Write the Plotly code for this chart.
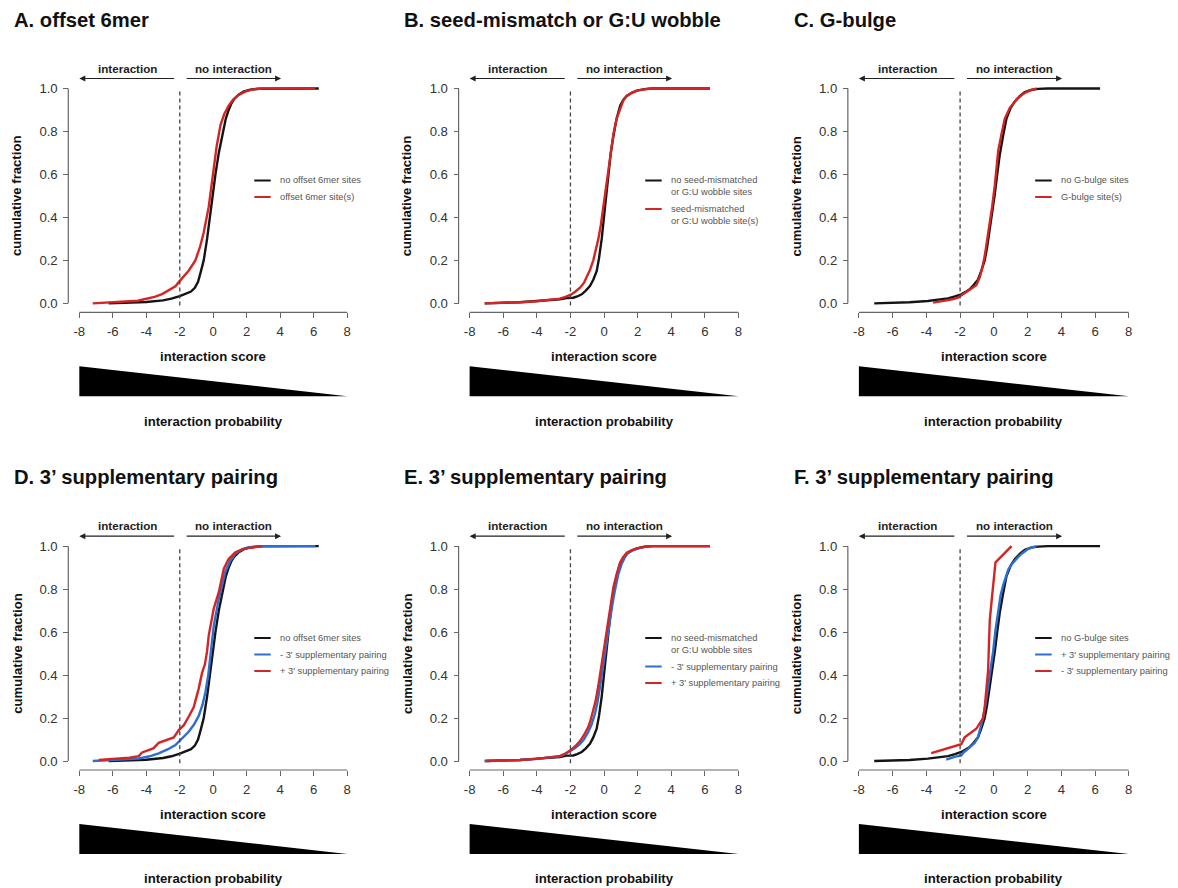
import plotly.graph_objects as go

# ---------------- data ----------------
x_ticks = [-8, -6, -4, -2, 0, 2, 4, 6, 8]
x_tick_text = ["-8", "-6", "-4", "-2", "0", "2", "4", "6", "8"]
y_ticks = [0.0, 0.2, 0.4, 0.6, 0.8, 1.0]

# Panel A / D reference: no offset 6mer sites
black_A_x = [-6.25, -5.0, -4.0, -3.0, -2.5, -2.0, -1.6, -1.33, -1.1, -0.91, -0.75, -0.57, -0.37, -0.21, -0.05,
             0.13, 0.33, 0.57, 0.75, 0.92, 1.08, 1.24, 1.5, 1.8, 2.2, 2.7, 3.5, 6.3]
black_A_y = [0.0, 0.002, 0.006, 0.014, 0.022, 0.034, 0.045, 0.055, 0.072, 0.1, 0.145, 0.2, 0.3, 0.4, 0.5,
             0.6, 0.7, 0.8, 0.86, 0.9, 0.93, 0.95, 0.97, 0.985, 0.994, 0.999, 1.0, 1.0]
red_A_x = [-7.2, -6.5, -5.5, -4.5, -4.06, -3.5, -3.06, -2.6, -2.26, -1.96, -1.47, -1.07, -0.8, -0.57, -0.4,
           -0.27, -0.12, 0.03, 0.2, 0.43, 0.65, 0.92, 1.2, 1.52, 1.9, 2.3, 2.9, 6.1]
red_A_y = [0.0, 0.003, 0.006, 0.012, 0.02, 0.03, 0.043, 0.062, 0.079, 0.108, 0.152, 0.2, 0.26, 0.33, 0.39,
           0.45, 0.54, 0.64, 0.73, 0.83, 0.88, 0.92, 0.95, 0.97, 0.985, 0.995, 1.0, 1.0]

# Panel B / E reference: no seed-mismatched or G:U wobble sites
black_B_x = [-7.1, -6.0, -5.0, -4.0, -3.3, -2.63, -2.23, -1.83, -1.6, -1.33, -1.1, -0.84, -0.64, -0.44, -0.3,
             -0.14, 0.06, 0.26, 0.4, 0.56, 0.75, 0.96, 1.15, 1.35, 1.65, 1.95, 2.4, 2.9, 6.3]
black_B_y = [0.0, 0.002, 0.005, 0.011, 0.015, 0.019, 0.025, 0.026, 0.032, 0.042, 0.058, 0.08, 0.11, 0.15, 0.21,
             0.3, 0.45, 0.61, 0.7, 0.78, 0.86, 0.92, 0.948, 0.965, 0.98, 0.99, 0.997, 1.0, 1.0]
red_B_x = [-7.1, -6.0, -5.0, -4.0, -3.3, -2.63, -2.3, -1.93, -1.7, -1.43, -1.2, -1.04, -0.84, -0.64, -0.5,
           -0.34, -0.2, -0.04, 0.1, 0.26, 0.4, 0.56, 0.75, 0.96, 1.15, 1.35, 1.65, 1.95, 2.4, 2.75, 6.3]
red_B_y = [0.0, 0.002, 0.005, 0.01, 0.015, 0.022, 0.03, 0.042, 0.055, 0.073, 0.095, 0.12, 0.155, 0.2, 0.245,
           0.3, 0.36, 0.44, 0.53, 0.62, 0.7, 0.79, 0.86, 0.91, 0.945, 0.965, 0.98, 0.99, 0.997, 1.0, 1.0]

# Panel C / F reference: no G-bulge sites
black_C_x = [-7.09, -6.0, -5.0, -3.91, -3.3, -2.72, -2.3, -1.93, -1.7, -1.43, -1.2, -0.94, -0.75, -0.54, -0.4,
             -0.24, -0.1, 0.06, 0.2, 0.35, 0.55, 0.75, 1.0, 1.25, 1.55, 1.84, 2.2, 2.63, 3.2, 6.3]
black_C_y = [0.0, 0.002, 0.005, 0.011, 0.016, 0.023, 0.032, 0.042, 0.052, 0.065, 0.085, 0.11, 0.15, 0.2, 0.26,
             0.34, 0.42, 0.51, 0.6, 0.69, 0.78, 0.86, 0.91, 0.94, 0.965, 0.983, 0.993, 0.998, 1.0, 1.0]
red_C_x = [-3.6, -3.1, -2.72, -2.4, -2.13, -1.83, -1.53, -1.25, -1.04, -0.84, -0.7, -0.54, -0.4, -0.24, -0.1,
           0.06, 0.16, 0.26, 0.46, 0.65, 0.95, 1.15, 1.35, 1.6, 1.84, 2.2, 2.54]
red_C_y = [0.003, 0.008, 0.015, 0.02, 0.026, 0.042, 0.057, 0.07, 0.084, 0.12, 0.16, 0.22, 0.29, 0.36, 0.45,
           0.55, 0.64, 0.71, 0.79, 0.86, 0.91, 0.93, 0.95, 0.966, 0.98, 0.992, 1.0]

# Panel D: - / + 3' supplementary pairing (offset 6mer)
blue_D_x = [-7.2, -6.25, -5.2, -4.45, -3.8, -3.26, -2.7, -2.26, -1.96, -1.47, -1.15, -0.87, -0.65, -0.47, -0.3,
            -0.17, 0.03, 0.33, 0.72, 1.0, 1.32, 1.7, 2.12, 3.0, 6.1]
blue_D_y = [0.0, 0.005, 0.008, 0.012, 0.022, 0.036, 0.055, 0.074, 0.098, 0.136, 0.17, 0.21, 0.26, 0.32, 0.4,
            0.48, 0.63, 0.755, 0.88, 0.93, 0.965, 0.985, 0.995, 1.0, 1.0]
red_D_x = [-6.84, -6.0, -5.0, -4.45, -4.25, -3.9, -3.56, -3.26, -2.86, -2.36, -2.06, -1.76, -1.47, -1.17, -0.87,
           -0.67, -0.5, -0.37, -0.27, -0.1, 0.03, 0.33, 0.63, 0.92, 1.32, 1.92, 2.92]
red_D_y = [0.005, 0.01, 0.016, 0.023, 0.04, 0.05, 0.06, 0.085, 0.097, 0.11, 0.144, 0.167, 0.206, 0.25, 0.337,
           0.41, 0.45, 0.51, 0.585, 0.65, 0.71, 0.786, 0.895, 0.94, 0.972, 0.99, 1.0]

# Panel E: - / + 3' supplementary pairing (seed-mismatch)
blue_E_x = [-7.1, -6.0, -5.0, -4.0, -3.3, -2.63, -2.3, -1.93, -1.7, -1.43, -1.2, -0.94, -0.74, -0.54, -0.4,
            -0.24, -0.1, 0.06, 0.2, 0.36, 0.5, 0.66, 0.85, 1.06, 1.25, 1.45, 1.75, 2.05, 2.4, 2.75, 6.3]
blue_E_y = [0.0, 0.002, 0.005, 0.01, 0.015, 0.022, 0.033, 0.05, 0.062, 0.08, 0.1, 0.135, 0.17, 0.22, 0.27,
            0.345, 0.42, 0.5, 0.58, 0.655, 0.73, 0.8, 0.87, 0.92, 0.95, 0.97, 0.982, 0.99, 0.997, 1.0, 1.0]
red_E_x = [-7.0, -6.0, -5.0, -4.0, -3.3, -2.63, -2.3, -1.93, -1.7, -1.43, -1.2, -0.94, -0.8, -0.64, -0.5,
           -0.34, -0.2, -0.04, 0.1, 0.26, 0.4, 0.56, 0.75, 0.96, 1.15, 1.35, 1.65, 1.95, 2.4, 2.75, 6.3]
red_E_y = [0.0, 0.002, 0.005, 0.01, 0.015, 0.023, 0.035, 0.054, 0.07, 0.093, 0.12, 0.158, 0.19, 0.236, 0.28,
           0.35, 0.42, 0.51, 0.59, 0.67, 0.74, 0.81, 0.87, 0.925, 0.95, 0.97, 0.982, 0.99, 0.997, 1.0, 1.0]

# Panel F: + / - 3' supplementary pairing (G-bulge)
blue_F_x = [-2.82, -2.5, -2.33, -1.93, -1.8, -1.63, -1.4, -1.14, -0.94, -0.8, -0.64, -0.5, -0.34, -0.2, -0.04,
            0.1, 0.26, 0.4, 0.56, 0.7, 0.85, 1.05, 1.25, 1.45, 1.65, 1.85, 2.04, 2.3, 2.54]
blue_F_y = [0.006, 0.015, 0.019, 0.026, 0.04, 0.05, 0.065, 0.084, 0.11, 0.15, 0.2, 0.26, 0.34, 0.42, 0.51,
            0.61, 0.7, 0.77, 0.82, 0.86, 0.89, 0.915, 0.935, 0.95, 0.965, 0.975, 0.988, 0.995, 1.0]
red_F_x = [-3.71, -1.93, -1.73, -1.04, -0.64, -0.54, -0.34, -0.24, -0.1, 0.1, 1.05]
red_F_y = [0.037, 0.078, 0.11, 0.15, 0.2, 0.25, 0.42, 0.655, 0.77, 0.925, 1.0]

titles = ["A. offset 6mer", "B. seed-mismatch or G:U wobble", "C. G-bulge",
          "D. 3\u2019 supplementary pairing", "E. 3\u2019 supplementary pairing", "F. 3\u2019 supplementary pairing"]

BLACK, RED, BLUE = "#141414", "#d42424", "#2c6fd0"

series = [
    [(black_A_x, black_A_y, BLACK), (red_A_x, red_A_y, RED)],
    [(black_B_x, black_B_y, BLACK), (red_B_x, red_B_y, RED)],
    [(black_C_x, black_C_y, BLACK), (red_C_x, red_C_y, RED)],
    [(black_A_x, black_A_y, BLACK), (blue_D_x, blue_D_y, BLUE), (red_D_x, red_D_y, RED)],
    [(black_B_x, black_B_y, BLACK), (blue_E_x, blue_E_y, BLUE), (red_E_x, red_E_y, RED)],
    [(black_C_x, black_C_y, BLACK), (blue_F_x, blue_F_y, BLUE), (red_F_x, red_F_y, RED)],
]

legends = [
    [(BLACK, ["no offset 6mer sites"]), (RED, ["offset 6mer site(s)"])],
    [(BLACK, ["no seed-mismatched", "or G:U wobble sites"]), (RED, ["seed-mismatched", "or G:U wobble site(s)"])],
    [(BLACK, ["no G-bulge sites"]), (RED, ["G-bulge site(s)"])],
    [(BLACK, ["no offset 6mer sites"]), (BLUE, ["- 3' supplementary pairing"]), (RED, ["+ 3' supplementary pairing"])],
    [(BLACK, ["no seed-mismatched", "or G:U wobble sites"]), (BLUE, ["- 3' supplementary pairing"]),
     (RED, ["+ 3' supplementary pairing"])],
    [(BLACK, ["no G-bulge sites"]), (BLUE, ["+ 3' supplementary pairing"]), (RED, ["- 3' supplementary pairing"])],
]

# ---------------- layout geometry ----------------
# Target pixel positions (in the 1178x888 picture), converted to plot-div pixels
# (the page adds an 8px body margin and the picture comes out slightly scaled).
S = 1178 / 1192.0
BODY = 8
W, H = 1176, 895
col_x0 = [81, 470, 858]      # pixel of x = -8
col_x1 = [348, 738, 1127]    # pixel of x = 8
yaxis_px = [70, 459, 847]
row_y1 = [89, 547]           # pixel of y = 1
row_y0 = [304, 762]          # pixel of y = 0
xaxis_px = [313, 771]
YPAD = 0.02
FONT = "Liberation Sans, Arial, Helvetica, sans-serif"
Y_OFF, Y_SCL = 4.5, 1.0058   # small vertical correction seen in earlier renders

def px(xp):
    return (xp / S - BODY) / W

def py(yp):
    yc = (yp + Y_OFF) / Y_SCL
    return 1 - (yc / S - BODY) / H

def fs(v):
    return v / S

fig = go.Figure()
shapes, annotations = [], []
layout = dict(width=W, height=H, margin=dict(l=0, r=0, t=0, b=0),
              paper_bgcolor="white", plot_bgcolor="white", showlegend=False,
              font=dict(family=FONT))

for i in range(6):
    r, c = divmod(i, 3)
    sfx = "" if i == 0 else str(i + 1)
    xr, yr = "x" + sfx, "y" + sfx
    x0p, x1p = col_x0[c], col_x1[c]
    y1p, y0p = row_y1[r], row_y0[r]
    span = y0p - y1p
    dom_top = y1p - YPAD * span
    dom_bot = y0p + YPAD * span

    layout["xaxis" + sfx] = dict(
        domain=[px(x0p), px(x1p)], range=[-8, 8], anchor="free", position=py(xaxis_px[r]),
        tickvals=x_ticks, ticktext=x_tick_text, ticks="outside", ticklen=5, tickwidth=1, tickcolor="#666",
        showline=False, showgrid=False, zeroline=False, ticklabelstandoff=2,
        tickfont=dict(size=fs(13), color="#333", family=FONT), fixedrange=True)
    layout["yaxis" + sfx] = dict(
        domain=[py(dom_bot), py(dom_top)], range=[-YPAD, 1 + YPAD], anchor="free", position=px(yaxis_px[c]),
        tickvals=y_ticks, tickformat=".1f", ticks="outside", ticklen=5, tickwidth=1, tickcolor="#666",
        showline=False, showgrid=False, zeroline=False, ticklabelstandoff=3,
        tickfont=dict(size=fs(13), color="#333", family=FONT), fixedrange=True)

    for (sx, sy, col) in series[i]:
        fig.add_trace(go.Scatter(x=sx, y=sy, mode="lines", line=dict(color=col, width=2.4),
                                 xaxis=xr, yaxis=yr, hoverinfo="skip", showlegend=False))

    # axis lines (R-style offset axes)
    shapes.append(dict(type="line", xref="paper", yref="paper",
                       x0=px(yaxis_px[c]), x1=px(yaxis_px[c]), y0=py(y0p), y1=py(y1p),
                       line=dict(color="#666", width=1.2)))
    shapes.append(dict(type="line", xref="paper", yref="paper",
                       x0=px(x0p), x1=px(x1p), y0=py(xaxis_px[r]), y1=py(xaxis_px[r]),
                       line=dict(color="#666", width=1.2)))
    # dashed threshold line at -2
    shapes.append(dict(type="line", xref=xr, yref=yr, x0=-2, x1=-2, y0=-0.01, y1=0.99,
                       line=dict(color="#444", width=1.3, dash="4px,3px")))
    # probability triangle
    shapes.append(dict(type="path", xref="paper", yref="paper",
                       path=f"M {px(x0p)},{py(y0p + 63)} L {px(x0p)},{py(y0p + 93)} L {px(x1p)},{py(y0p + 93)} Z",
                       fillcolor="black", line=dict(width=0)))

    # title
    annotations.append(dict(text="<b>" + titles[i] + "</b>", xref="paper", yref="paper",
                            x=px(x0p - 67), y=py(y1p - 69), xanchor="left", yanchor="middle",
                            showarrow=False, font=dict(size=fs(20), color="#111", family=FONT)))
    # axis titles
    annotations.append(dict(text="<b>interaction score</b>", xref=xr, yref="paper", x=0, y=py(y0p + 53.5),
                            xanchor="center", yanchor="middle", showarrow=False,
                            font=dict(size=fs(13), color="#111", family=FONT)))
    annotations.append(dict(text="<b>interaction probability</b>", xref=xr, yref="paper", x=0, y=py(y0p + 118),
                            xanchor="center", yanchor="middle", showarrow=False,
                            font=dict(size=fs(13), color="#111", family=FONT)))
    annotations.append(dict(text="<b>cumulative fraction</b>", xref="paper", yref=yr,
                            x=px(yaxis_px[c] - 51), y=0.5, textangle=-90,
                            xanchor="center", yanchor="middle", showarrow=False,
                            font=dict(size=fs(13), color="#111", family=FONT)))
    # interaction arrows (above the plot area)
    for (tip, tail) in [(-8, -2.25), (4.05, -1.68)]:
        annotations.append(dict(text="", xref=xr, yref="paper", x=tip, y=py(y1p - 10),
                                axref=xr, ax=tail, ayref="pixel", ay=0,
                                showarrow=True, arrowhead=2, arrowsize=1, arrowwidth=1.2, arrowcolor="#222",
                                standoff=0, startstandoff=0))
    annotations.append(dict(text="<b>interaction</b>", xref=xr, yref="paper", x=-5.13, y=py(y1p - 20.5),
                            xanchor="center", yanchor="middle", showarrow=False,
                            font=dict(size=fs(11.5), color="#222", family=FONT)))
    annotations.append(dict(text="<b>no interaction</b>", xref=xr, yref="paper", x=1.21, y=py(y1p - 20.5),
                            xanchor="center", yanchor="middle", showarrow=False,
                            font=dict(size=fs(11.5), color="#222", family=FONT)))

    # legend (custom, inside plot)
    ypos_px = 181.0
    for (col, lines) in legends[i]:
        yv = (y0p - (y1p + (ypos_px - 89))) / span
        shapes.append(dict(type="line", xref=xr, yref=yr, x0=2.45, x1=3.43, y0=yv, y1=yv,
                           line=dict(color=col, width=2)))
        for k, t in enumerate(lines):
            yk = yv - k * 12.0 / span
            annotations.append(dict(text=t, xref=xr, yref=yr, x=3.88, y=yk, xanchor="left", yanchor="middle",
                                    showarrow=False, font=dict(size=fs(9.2), color="#555", family=FONT)))
        ypos_px += 16.5 + 12.0 * (len(lines) - 1)

layout["shapes"] = shapes
layout["annotations"] = annotations
fig.update_layout(**layout)
fig.write_html("out.html")
